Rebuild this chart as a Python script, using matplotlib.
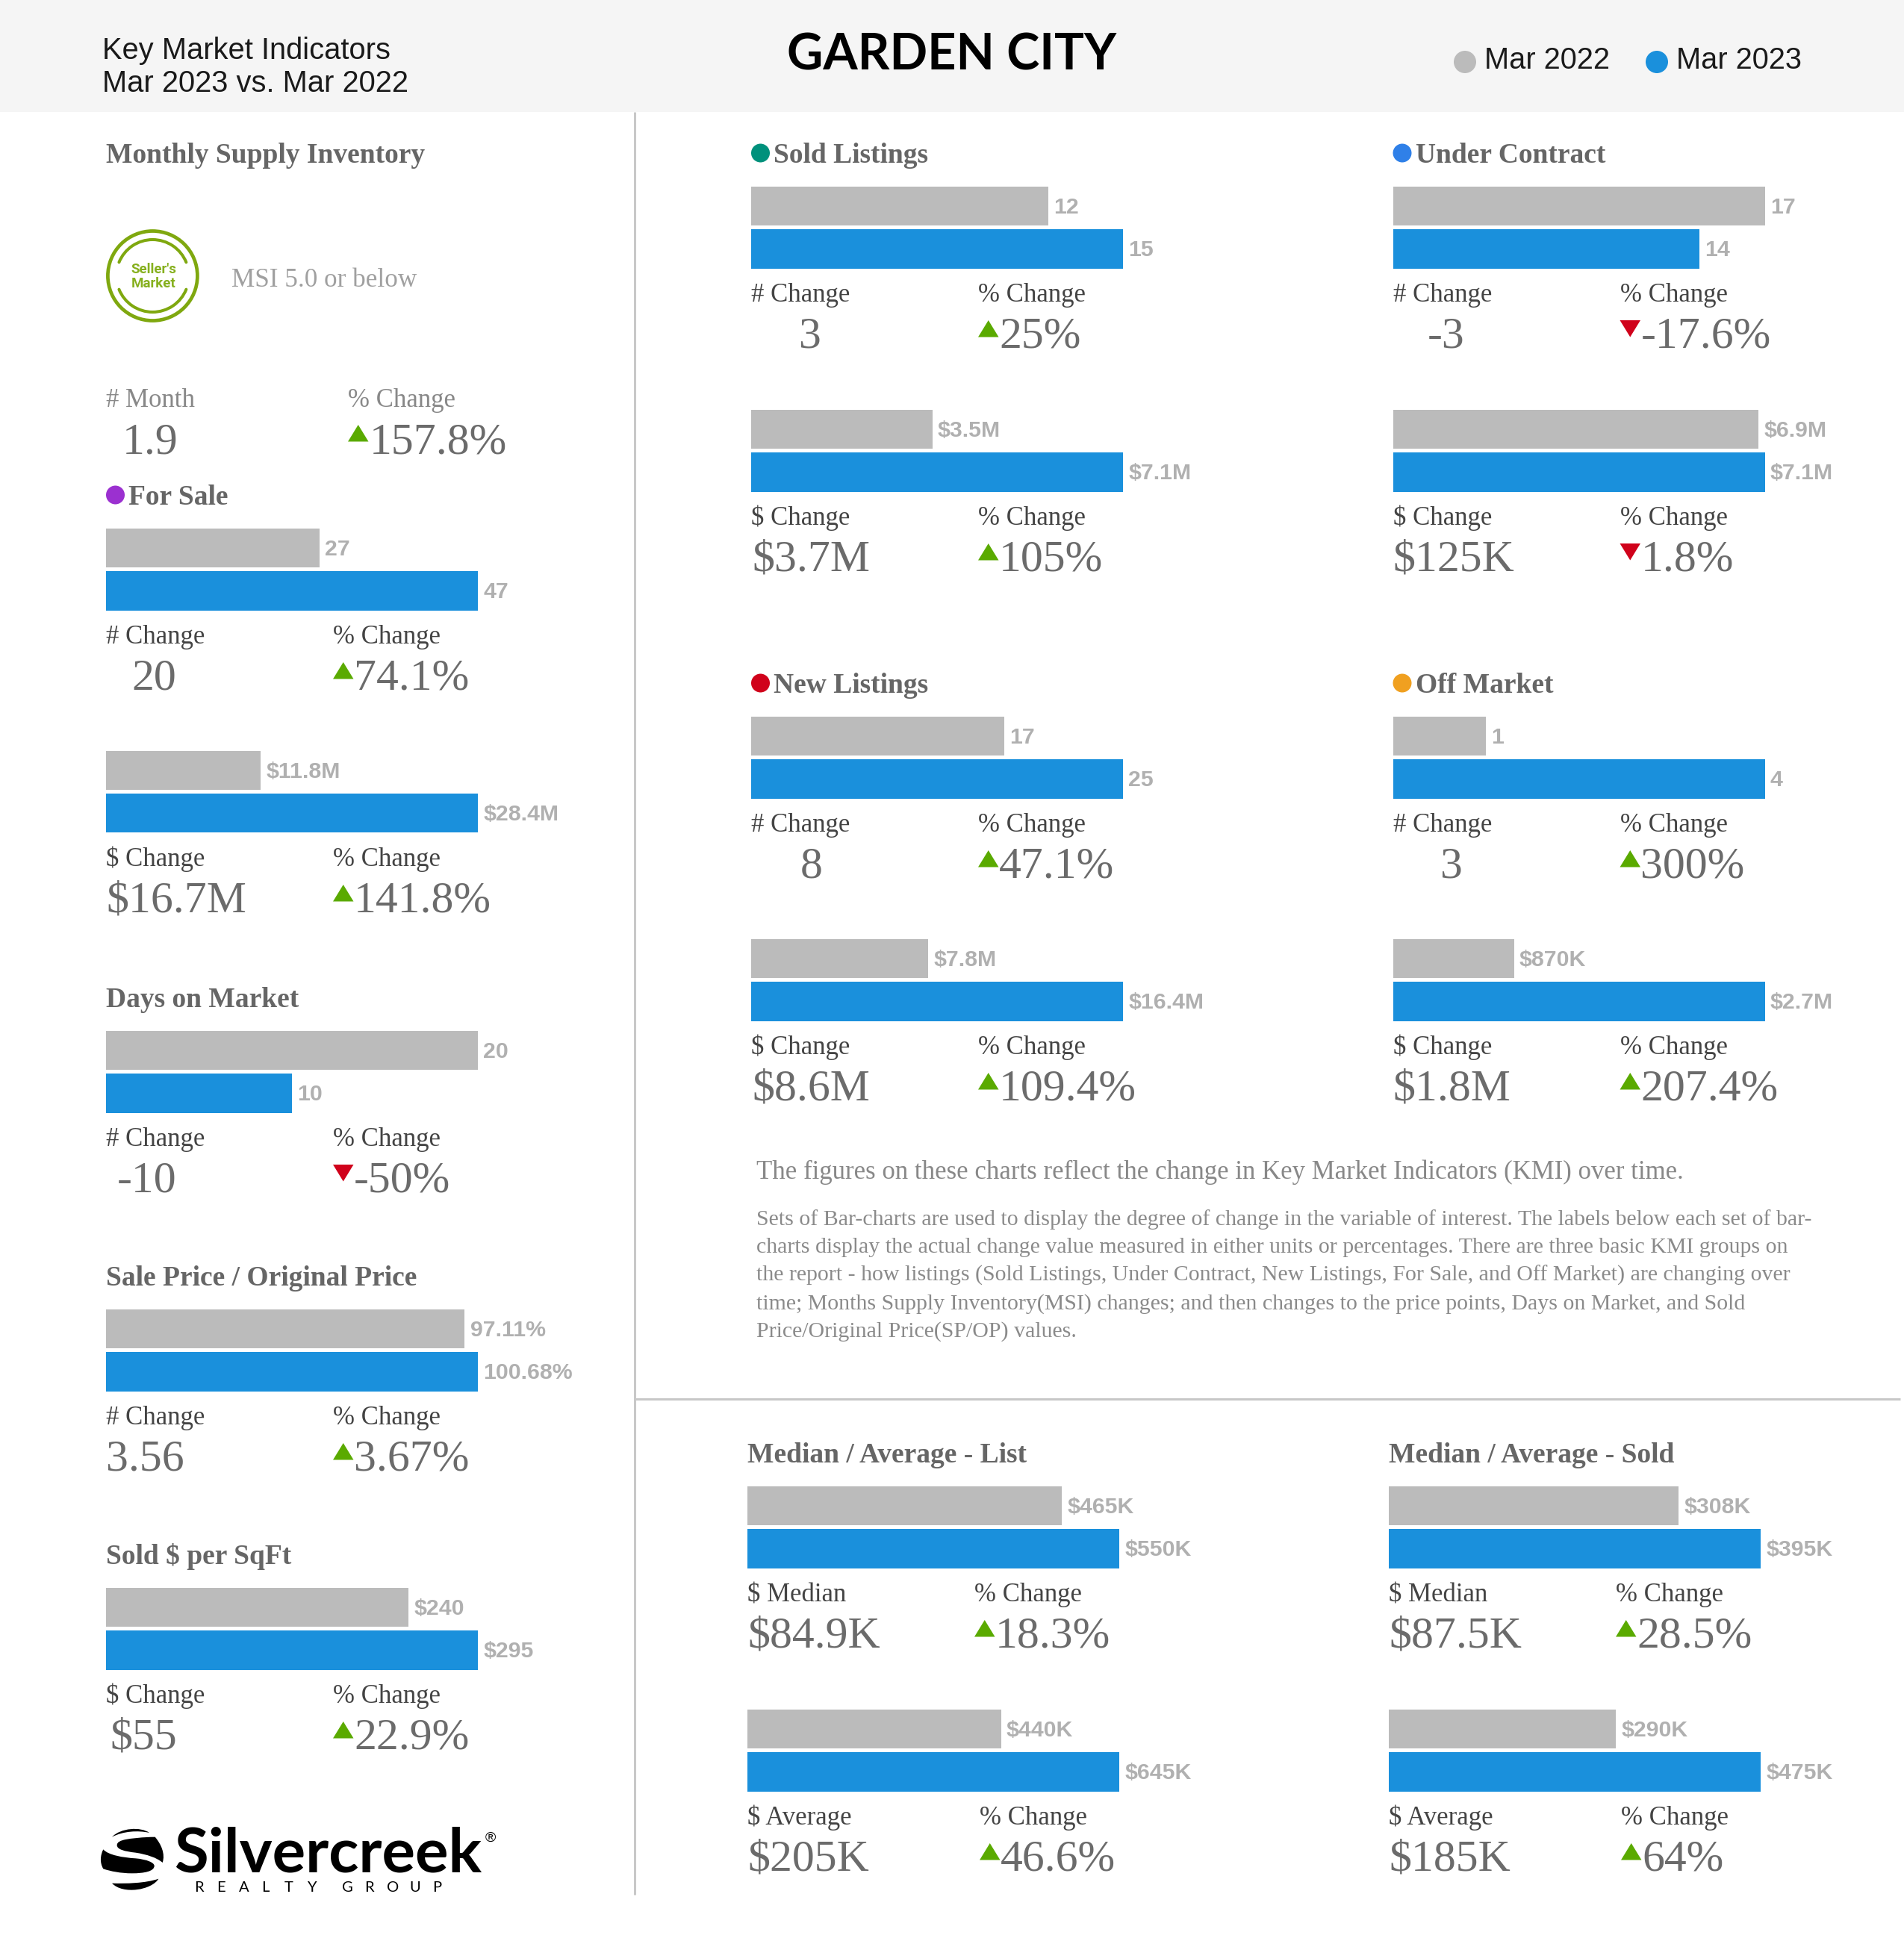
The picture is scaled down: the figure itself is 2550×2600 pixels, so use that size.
import matplotlib
matplotlib.use("Agg")
import matplotlib.pyplot as plt
from matplotlib.patches import Ellipse, Arc, Rectangle, PathPatch, Polygon
from matplotlib.path import Path

# ---------- data ----------
PANEL_NAMES = ["for_sale_n", "for_sale_d", "dom", "spop", "sqft",
               "sold_n", "sold_d", "uc_n", "uc_d",
               "new_n", "new_d", "off_n", "off_d",
               "list_med", "list_avg", "sold_med", "sold_avg"]
PRIOR_VALUES = [27, 11.8, 20, 97.11, 240, 12, 3.46, 17, 6.98, 17, 7.8, 1, 0.87, 465, 440, 308, 290]
CURRENT_VALUES = [47, 28.4, 10, 100.68, 295, 15, 7.1, 14, 7.1, 25, 16.4, 4, 2.67, 550, 645, 395, 475]
PRIOR_LABELS = ["27", "$11.8M", "20", "97.11%", "$240", "12", "$3.5M", "17", "$6.9M",
                "17", "$7.8M", "1", "$870K", "$465K", "$440K", "$308K", "$290K"]
CURRENT_LABELS = ["47", "$28.4M", "10", "100.68%", "$295", "15", "$7.1M", "14", "$7.1M",
                  "25", "$16.4M", "4", "$2.7M", "$550K", "$645K", "$395K", "$475K"]
CHANGE_HEADS = ["# Change", "$ Change", "# Change", "# Change", "$ Change",
                "# Change", "$ Change", "# Change", "$ Change",
                "# Change", "$ Change", "# Change", "$ Change",
                "$ Median", "$ Average", "$ Median", "$ Average"]
CHANGE_VALUES = ["20", "$16.7M", "-10", "3.56", "$55", "3", "$3.7M", "-3", "$125K",
                 "8", "$8.6M", "3", "$1.8M", "$84.9K", "$205K", "$87.5K", "$185K"]
PCT_VALUES = ["74.1%", "141.8%", "-50%", "3.67%", "22.9%", "25%", "105%", "-17.6%", "1.8%",
              "47.1%", "109.4%", "300%", "207.4%", "18.3%", "46.6%", "28.5%", "64%"]
PCT_UP = [True, True, False, True, True, True, True, False, False,
          True, True, True, True, True, True, True, True]
SECTION_TITLES = ["Monthly Supply Inventory", "For Sale", "Days on Market", "Sale Price / Original Price",
                  "Sold $ per SqFt", "Sold Listings", "Under Contract", "New Listings", "Off Market",
                  "Median / Average - List", "Median / Average - Sold"]
LEGEND_LABELS = ["Mar 2022", "Mar 2023"]
CITY = "GARDEN CITY"
INTRO = "The figures on these charts reflect the change in Key Market Indicators (KMI) over time."
BODY_LINES = [
    "Sets of Bar-charts are used to display the degree of change in the variable of interest. The labels below each set of bar-",
    "charts display the actual change value measured in either units or percentages. There are three basic KMI groups on",
    "the report - how listings (Sold Listings, Under Contract, New Listings, For Sale, and Off Market) are changing over",
    "time; Months Supply Inventory(MSI) changes; and then changes to the price points, Days on Market, and Sold",
    "Price/Original Price(SP/OP) values.",
]

# ---------- layout (pixels) ----------
W, H = 2550, 2600
GRAY, BLUE = "#bbbbbb", "#1a90dc"
SERIF, SANS = "Liberation Serif", "Liberation Sans"
PANEL_X = [142, 142, 142, 142, 142, 1006, 1006, 1865.5, 1865.5, 1006, 1006, 1865.5, 1865.5, 1001, 1001, 1860, 1860]
PANEL_T = [707.5, 1005.5, 1380.5, 1753.5, 2126.5, 249.5, 548.5, 249.5, 548.5, 959.5, 1257.5, 959.5, 1257.5, 1990.5, 2289.5, 1990.5, 2289.5]
PCT_DX = [304] * 14 + [311, 304, 311]
VALUE_DX = [34, 0, 15, 0, 5, 64, 1, 46, 0, 66, 1, 64, 0, 0, 0, 0, 0]
BAR_W, BAR_H, BAR_STEP = 498, 52.5, 57.5
TITLE_POS = [(142, 218, None), (142, 676, "#9b30d0"), (142, 1349, None), (142, 1722, None),
             (142, 2095, None), (1006, 218, "#00917c"), (1865.5, 218, "#2f80e8"),
             (1006, 928, "#d0021b"), (1865.5, 928, "#f0a020"), (1001, 1959, None), (1860, 1959, None)]

fig = plt.figure(figsize=(W / 100, H / 100), dpi=100, facecolor="white")
ov = fig.add_axes([0, 0, 1, 1], zorder=5)
ov.set_xlim(0, W)
ov.set_ylim(H, 0)
ov.axis("off")
ov.patch.set_alpha(0)


def txt(x, y, s, size, color, family=SERIF, weight="normal", **kw):
    return ov.text(x, y, s, fontsize=size, color=color, family=family, weight=weight,
                   va=kw.pop("va", "baseline"), ha=kw.pop("ha", "left"), **kw)


def triangle(x, y, up):
    w, h = 27.5, 22.5
    col = "#5aaa00" if up else "#d0021b"
    pts = [(x, y + h), (x + w, y + h), (x + w / 2, y)] if up else [(x, y), (x + w, y), (x + w / 2, y + h)]
    ov.add_patch(Polygon(pts, closed=True, fc=col, ec="none"))


def dot(cx, cy, col, r=12.5):
    ov.add_patch(Ellipse((cx, cy), 2 * r, 2 * r, fc=col, ec="none"))


# header
ov.add_patch(Rectangle((0, 0), W, 150, fc="#f5f5f5", ec="none"))
txt(137, 79, "Key Market Indicators", 28.7, "#1a1a1a", SANS)
txt(137, 123, "Mar 2023 vs. Mar 2022", 28.7, "#1a1a1a", SANS)
txt(1054, 93, CITY, 48, "black", "Lato", "bold")
dot(1962, 83, GRAY, 15)
txt(1988, 92, LEGEND_LABELS[0], 28.6, "#1a1a1a", SANS)
dot(2219, 83, BLUE, 15)
txt(2245, 92, LEGEND_LABELS[1], 28.6, "#1a1a1a", SANS)

# dividers
ov.plot([850, 850], [150, 2538], color="#c8c8c8", lw=2.2, solid_capstyle="butt")
ov.plot([850, 2545], [1874, 1874], color="#c8c8c8", lw=2.2, solid_capstyle="butt")

# section titles
for title, (x, y, col) in zip(SECTION_TITLES, TITLE_POS):
    if col:
        dot(x + 12.5, y - 13, col)
        txt(x + 30, y, title, 27, "#666666", weight="bold")
    else:
        txt(x, y, title, 27, "#666666", weight="bold")

# Seller's market badge
GREEN = "#7fa80f"
cx, cy = 204.4, 369.5
ov.add_patch(Ellipse((cx, cy), 120, 120, fc="none", ec=GREEN, lw=3.4))
ov.add_patch(Arc((cx, cy), 97, 97, theta1=202, theta2=338, ec=GREEN, lw=2.9, capstyle="round"))
ov.add_patch(Arc((cx, cy), 97, 97, theta1=22, theta2=158, ec=GREEN, lw=2.9, capstyle="round"))
txt(cx + 1, cy + 1, "Seller's\nMarket", 13.5, "#86b01e", "Roboto", "bold", ha="center", va="center", linespacing=1.1)
txt(310, 384, "MSI 5.0 or below", 25.3, "#a0a0a0")

# MSI figures
txt(142, 545, "# Month", 25, "#888888")
txt(466, 545, "% Change", 25, "#888888")
txt(164, 607.5, "1.9", 43, "#6b6b6b")
triangle(466, 569, True)
txt(495, 607.5, "157.8%", 43, "#6b6b6b")

# bar panels
for i, name in enumerate(PANEL_NAMES):
    x0, top = PANEL_X[i], PANEL_T[i]
    hgt = BAR_H + BAR_STEP
    ax = fig.add_axes([x0 / W, 1 - (top + hgt) / H, BAR_W / W, hgt / H], zorder=1)
    half = 0.5 * BAR_H / BAR_STEP
    vals = [PRIOR_VALUES[i], CURRENT_VALUES[i]]
    ax.barh([0, 1], vals, height=BAR_H / BAR_STEP, color=[GRAY, BLUE])
    ax.set_xlim(0, max(vals))
    ax.set_ylim(1 + half, -half)
    ax.axis("off")
    for j, lab in enumerate([PRIOR_LABELS[i], CURRENT_LABELS[i]]):
        ax.annotate(lab, (vals[j], j), xytext=(5.2, 0.6), textcoords="offset points", va="center_baseline",
                    ha="left", fontsize=21.8, family=SANS, weight="bold", color="#b0b0b0",
                    annotation_clip=False)
    txt(x0, top + 154.5, CHANGE_HEADS[i], 25, "#444444")
    txt(x0 + VALUE_DX[i], top + 216, CHANGE_VALUES[i], 43, "#6b6b6b")
    px = x0 + PCT_DX[i]
    txt(px, top + 154.5, "% Change", 25, "#444444")
    triangle(px, top + 179.5, PCT_UP[i])
    txt(px + 28, top + 216, PCT_VALUES[i], 43, "#6b6b6b")

# explanatory text
txt(1013, 1579, INTRO, 25, "#888888")
for k, line in enumerate(BODY_LINES):
    txt(1013, 1641 + 37.4 * k, line, 21.5, "#8a8a8a")


# logo: the globe emblem, outline points (3x crop of the logo)
def logo_shape(pts):
    mapped = [(125 + px / 3, 2440 + py / 3) for px, py in pts]
    codes = [Path.MOVETO] + [Path.CURVE4] * (len(mapped) - 1)
    ov.add_patch(PathPatch(Path(mapped, codes), fc="black", ec="none"))


logo_shape([(75, 62), (110, 25), (190, 20), (225, 45), (180, 35), (120, 38), (75, 62)])
logo_shape([(248, 62), (200, 62), (150, 68), (130, 72), (110, 76), (95, 82), (95, 95),
            (95, 112), (125, 120), (170, 125), (215, 132), (255, 145), (278, 165),
            (290, 130), (272, 90), (248, 62)])
logo_shape([(40, 112), (60, 135), (120, 145), (170, 148), (215, 152), (245, 165), (245, 178),
            (245, 200), (205, 208), (155, 208), (110, 208), (70, 200), (40, 190),
            (25, 165), (28, 135), (40, 112)])
logo_shape([(75, 248), (130, 250), (210, 248), (262, 230), (235, 275), (120, 295), (75, 248)])
txt(233, 2507, "Silvercreek", 60, "black", "Lato", "bold")
txt(650, 2467, "\u00ae", 14, "black", SANS)
for n, ch in enumerate("REALTY"):
    txt(260 + 30.2 * n, 2534, ch, 14.5, "black", "Lato")
for n, ch in enumerate("GROUP"):
    txt(458 + 30.2 * n, 2534, ch, 14.5, "black", "Lato")

fig.savefig("out.png", dpi=100, facecolor="white")
